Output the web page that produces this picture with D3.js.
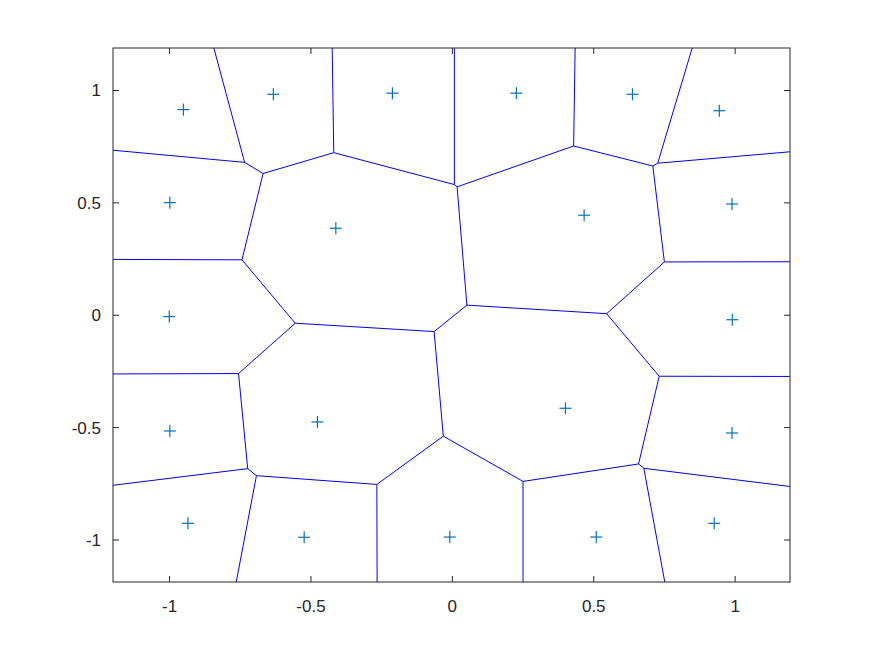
<!DOCTYPE html>
<html>
<head>
<meta charset="utf-8">
<script src="https://cdn.jsdelivr.net/npm/d3@7"></script>
<style>
html,body{margin:0;padding:0;background:#fff;}
svg{display:block;}
text{font-family:"Liberation Sans",Arial,Helvetica,sans-serif;font-size:17px;fill:#262626;}
</style>
</head>
<body>
<script>
// Seed points (data coordinates)
const pointsX = [-0.951,-0.633,-0.212,0.2265,0.637,0.944,
                 -0.999,0.989,-1.001,0.990,-0.999,0.989,
                 -0.935,-0.524,-0.009,0.509,0.926,
                 -0.412,0.466,-0.477,0.400];
const pointsY = [0.915,0.983,0.988,0.988,0.983,0.910,
                 0.501,0.495,-0.006,-0.020,-0.515,-0.524,
                 -0.926,-0.988,-0.987,-0.987,-0.926,
                 0.387,0.445,-0.475,-0.414];
const xTicks = [-1,-0.5,0,0.5,1];
const yTicks = [-1,-0.5,0,0.5,1];
const xTickLabels = ["-1","-0.5","0","0.5","1"];
const yTickLabels = ["-1","-0.5","0","0.5","1"];
const xDomain = [-1.2, 1.194];
const yDomain = [-1.187, 1.189];

(function () {
const W = 872, H = 654;
const mL = 113, mR = 790, mT = 48, mB = 582;

const svg = d3.select("body").append("svg").attr("width", W).attr("height", H);
svg.append("rect").attr("width", W).attr("height", H).attr("fill", "#fff");

const x = d3.scaleLinear().domain(xDomain).range([mL, mR]);
const y = d3.scaleLinear().domain(yDomain).range([mB, mT]);

const pts = pointsX.map((v, i) => [v, pointsY[i]]);
const delaunay = d3.Delaunay.from(pts);
const vor = delaunay.voronoi([xDomain[0], yDomain[0], xDomain[1], yDomain[1]]);

const p = d3.path();
const ctx = {
  moveTo: (a, b) => p.moveTo(x(a), y(b)),
  lineTo: (a, b) => p.lineTo(x(a), y(b)),
  closePath: () => p.closePath()
};
vor.render(ctx);

svg.append("defs").append("clipPath").attr("id", "clip")
  .append("rect").attr("x", mL).attr("y", mT).attr("width", mR - mL).attr("height", mB - mT);

svg.append("path").attr("d", p.toString())
  .attr("fill", "none").attr("stroke", "#0000ff").attr("stroke-width", 1)
  .attr("clip-path", "url(#clip)");

const ms = 6;
const g = svg.append("g").attr("stroke", "#0072BD").attr("stroke-width", 1.2);
pts.forEach(d => {
  const cx = x(d[0]), cy = y(d[1]);
  g.append("line").attr("x1", cx - ms).attr("x2", cx + ms).attr("y1", cy).attr("y2", cy);
  g.append("line").attr("x1", cx).attr("x2", cx).attr("y1", cy - ms).attr("y2", cy + ms);
});

const axisColor = "#262626";
svg.append("rect").attr("x", mL).attr("y", mT).attr("width", mR - mL).attr("height", mB - mT)
  .attr("fill", "none").attr("stroke", axisColor).attr("stroke-width", 1);

const tl = 6;
const axg = svg.append("g").attr("stroke", axisColor).attr("stroke-width", 1);
xTicks.forEach(t => {
  const px = x(t);
  axg.append("line").attr("x1", px).attr("x2", px).attr("y1", mB).attr("y2", mB - tl);
  axg.append("line").attr("x1", px).attr("x2", px).attr("y1", mT).attr("y2", mT + tl);
});
yTicks.forEach(t => {
  const py = y(t);
  axg.append("line").attr("x1", mL).attr("x2", mL + tl).attr("y1", py).attr("y2", py);
  axg.append("line").attr("x1", mR).attr("x2", mR - tl).attr("y1", py).attr("y2", py);
});

xTicks.forEach((t, i) => {
  svg.append("text").attr("x", x(t)).attr("y", mB + 30)
    .attr("text-anchor", "middle").text(xTickLabels[i]);
});
yTicks.forEach((t, i) => {
  svg.append("text").attr("x", mL - 12).attr("y", y(t) + 6)
    .attr("text-anchor", "end").text(yTickLabels[i]);
});
})();
</script>
</body>
</html>
